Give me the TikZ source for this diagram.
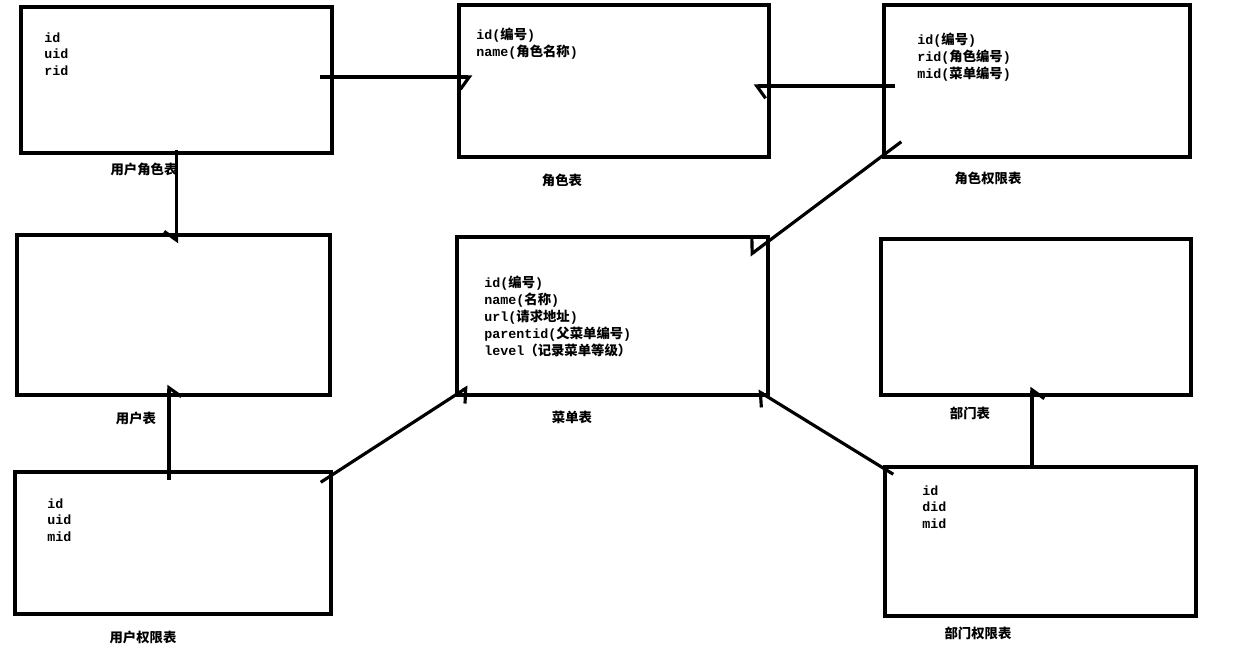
\documentclass[tikz,border=0pt]{standalone}
\usepackage{fontspec}
\setmainfont{Liberation Mono}
\newfontfamily\cjk{Noto Sans CJK SC}
\newcommand{\zh}[1]{{\cjk #1}}
\usetikzlibrary{arrows.meta,calc}

\begin{document}
\begin{tikzpicture}[x=0.02cm,y=-0.02cm,
  tbl/.style={draw,line width=2pt,inner sep=0pt},
  fld/.style={anchor=north west,inner sep=0pt,align=left,font=\fontsize{7.6}{9.6}\selectfont\bfseries},
  tname/.style={inner sep=0pt,font=\fontsize{7.6}{9.6}\selectfont\bfseries\cjk},
  lnk/.style={line width=1.8pt,-{Straight Barb[right,length=5pt,width=14pt]}},
  lnkl/.style={line width=1.8pt,-{Straight Barb[left,length=5pt,width=14pt]}}]
\useasboundingbox (0,0) rectangle (1240,650);
% tables
\node[tbl,minimum width=6.22cm,minimum height=2.92cm] (urole) at (176.5,80) {};
\node[tbl,minimum width=6.2cm,minimum height=3.04cm] (role) at (614,81) {};
\node[tbl,minimum width=6.12cm,minimum height=3.04cm] (rperm) at (1037,81) {};
\node[tbl,minimum width=6.26cm,minimum height=3.2cm] (user) at (173.5,315) {};
\node[tbl,minimum width=6.22cm,minimum height=3.16cm] (menu) at (612.5,316) {};
\node[tbl,minimum width=6.2cm,minimum height=3.12cm] (dept) at (1036,317) {};
\node[tbl,minimum width=6.32cm,minimum height=2.84cm] (uperm) at (173,543) {};
\node[tbl,minimum width=6.22cm,minimum height=2.98cm] (dperm) at (1040.5,541.5) {};
% fields
\node[fld] (urole-f) at (44,32) {id\\uid\\rid};
\node[fld] (role-f) at (476,28) {id(\zh{编号})\\name(\zh{角色名称})};
\node[fld] (rperm-f) at (917,33) {id(\zh{编号})\\rid(\zh{角色编号})\\mid(\zh{菜单编号})};
\node[fld] (menu-f) at (484,276) {id(\zh{编号})\\name(\zh{名称})\\url(\zh{请求地址})\\parentid(\zh{父菜单编号})\\level\zh{（记录菜单等级）}};
\node[fld] (uperm-f) at (47,498) {id\\uid\\mid};
\node[fld] (dperm-f) at (922,485) {id\\did\\mid};
% captions
\node[tname] (urole-c) at (144,169) {用户角色表};
\node[tname] (role-c) at (562,180) {角色表};
\node[tname] (rperm-c) at (988,178) {角色权限表};
\node[tname] (user-c) at (136,418) {用户表};
\node[tname] (menu-c) at (572,417) {菜单表};
\node[tname] (dept-c) at (970,413) {部门表};
\node[tname] (uperm-c) at (143,637) {用户权限表};
\node[tname] (dperm-c) at (978,633) {部门权限表};
% links
\draw[lnk] ($(urole.east)+(-14,-3)$) -- ($(role.west)+(15,-4)$);
\draw[lnkl] ($(rperm.west)+(13,5)$) -- ($(role.east)+(-17,5)$);
\draw[lnk] ($(rperm.south west)+(19,-17)$) -- ($(menu.north east)+(-20,20)$);
\draw[lnk] ($(urole.south)+(0,-5)$) -- ($(user.north)+(3,10)$);
\draw[lnk] ($(uperm.north)+(-4,10)$) -- ($(user.south)+(-4.5,-12)$);
\draw[lnk] ($(uperm.north east)+(-12,12)$) -- ($(menu.south west)+(13,-10)$);
\draw[lnkl] ($(dperm.north west)+(10,9)$) -- ($(menu.south east)+(-12,-6)$);
\draw[lnk] ($(dperm.north)+(-8.5,1)$) -- ($(dept.south)+(-4,-10)$);
\end{tikzpicture}
\end{document}
